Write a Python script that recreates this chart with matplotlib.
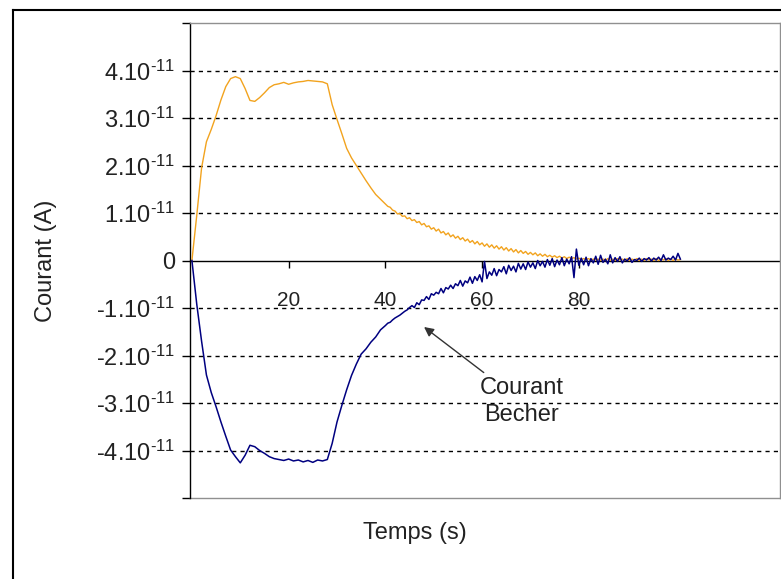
import numpy as np
import matplotlib
matplotlib.use("Agg")
import matplotlib.pyplot as plt
from matplotlib.lines import Line2D

plt.rcParams['font.family'] = ['Liberation Sans', 'DejaVu Sans']
plt.rcParams['mathtext.fontset'] = 'custom'
plt.rcParams['mathtext.rm'] = 'Liberation Sans'
plt.rcParams['mathtext.it'] = 'Liberation Sans:italic'
plt.rcParams['mathtext.bf'] = 'Liberation Sans:bold'

SCALE = 1e-11

# ---- data (currents in units of 1e-11 A) ----
t_coarse = list(range(0, 41))
orange_coarse = [0, 0.95, 1.95, 2.5, 2.76, 3.05, 3.38, 3.66, 3.83, 3.87, 3.83,
                 3.62, 3.37, 3.35, 3.43, 3.53, 3.64, 3.70, 3.72, 3.75, 3.71,
                 3.74, 3.76, 3.77, 3.79, 3.78, 3.77, 3.76, 3.72, 3.28, 2.97,
                 2.67, 2.36, 2.16, 2.0, 1.84, 1.68, 1.53, 1.39, 1.29, 1.19]
blue_coarse = [0, -0.92, -1.70, -2.41, -2.78, -3.08, -3.40, -3.70, -3.99, -4.13, -4.26,
               -4.10, -3.89, -3.92, -4.00, -4.06, -4.13, -4.17, -4.19, -4.21, -4.18,
               -4.22, -4.20, -4.24, -4.21, -4.25, -4.20, -4.22, -4.19, -3.85, -3.40,
               -3.05, -2.72, -2.42, -2.18, -1.97, -1.86, -1.72, -1.61, -1.46, -1.37]

# fine part: from 40.5 s every 0.5 s
orange_fine = [1.14, 1.12, 1.06, 1.04, 0.98, 0.99, 0.93, 0.94, 0.88, 0.90,
               0.84, 0.86, 0.80, 0.82, 0.75, 0.78, 0.71, 0.73, 0.66, 0.69,
               0.62, 0.66, 0.58, 0.61, 0.54, 0.58, 0.50, 0.54, 0.47, 0.51,
               0.44, 0.48, 0.41, 0.45, 0.38, 0.42, 0.35, 0.40, 0.33, 0.37,
               0.30, 0.35, 0.28, 0.33, 0.26, 0.31, 0.24, 0.29, 0.22, 0.27,
               0.20, 0.25, 0.18, 0.23, 0.16, 0.21, 0.15, 0.19, 0.13, 0.17,
               0.12, 0.16, 0.10, 0.14, 0.09, 0.13, 0.08, 0.11, 0.07, 0.10,
               0.06, 0.09, 0.05, 0.08, 0.04, 0.07, 0.04, 0.06, 0.03, 0.05,
               0.02, 0.04, 0.02, 0.04, 0.01, 0.03, 0.01, 0.03, 0.00, 0.03,
               0.00, 0.04, 0.00, 0.03, 0.00, 0.04, 0.01, 0.03, 0.00, 0.04,
               0.00, 0.03, 0.01, 0.04, 0.00, 0.03, 0.00, 0.04, 0.01, 0.03,
               0.00, 0.04, 0.00, 0.03, 0.01, 0.04, 0.00, 0.03, 0.00, 0.03,
               0.01, 0.02]
blue_fine = [-1.32, -1.30, -1.25, -1.21, -1.18, -1.15, -1.11, -1.07, -1.04, -0.99,
             -0.95, -0.99, -0.89, -0.93, -0.83, -0.84, -0.76, -0.82, -0.70, -0.73,
             -0.67, -0.70, -0.59, -0.68, -0.57, -0.60, -0.52, -0.59, -0.49, -0.53,
             -0.42, -0.54, -0.43, -0.47, -0.35, -0.48, -0.34, -0.42, -0.30, -0.45,
             -0.02, -0.38, -0.24, -0.31, -0.17, -0.32, -0.19, -0.24, -0.13, -0.28,
             -0.10, -0.21, -0.12, -0.24, -0.06, -0.18, -0.07, -0.19, -0.03, -0.14,
             -0.05, -0.17, 0.00, -0.11, -0.02, -0.14, 0.02, -0.10, 0.04, -0.13,
             0.01, -0.09, 0.06, -0.11, 0.03, -0.07, 0.08, -0.36, 0.24, -0.10,
             0.05, -0.09, 0.07, -0.11, 0.04, -0.05, 0.09, -0.08, 0.11, -0.04,
             0.03, -0.07, 0.12, -0.05, 0.06, -0.02, 0.08, -0.05, 0.03, -0.01,
             0.06, -0.04, 0.02, 0.00, 0.05, -0.02, 0.04, 0.01, 0.06, -0.01,
             0.05, 0.01, 0.07, 0.00, 0.12, 0.01, 0.05, 0.02, 0.09, 0.01,
             0.15, 0.03]

y_tick_vals = [-5, -4, -3, -2, -1, 0, 1, 2, 3, 4, 5]
y_tick_labels = ['', '-$\\mathrm{4.10}^{\\text{-11}}$', '-$\\mathrm{3.10}^{\\text{-11}}$',
                 '-$\\mathrm{2.10}^{\\text{-11}}$', '-$\\mathrm{1.10}^{\\text{-11}}$', '0',
                 '$\\mathrm{1.10}^{\\text{-11}}$', '$\\mathrm{2.10}^{\\text{-11}}$',
                 '$\\mathrm{3.10}^{\\text{-11}}$', '$\\mathrm{4.10}^{\\text{-11}}$', '']
x_tick_vals = [20, 40, 60, 80]
x_tick_labels = ['20', '40', '60', '80']
grid_vals = [-4, -3, -2, -1, 1, 2, 3, 4]

t_fine_o = 40.5 + 0.5 * np.arange(len(orange_fine))
t_fine_b = 40.5 + 0.5 * np.arange(len(blue_fine))
t_orange = np.concatenate([t_coarse, t_fine_o])
t_blue = np.concatenate([t_coarse, t_fine_b])
y_orange = np.concatenate([orange_coarse, orange_fine]) * SCALE
y_blue = np.concatenate([blue_coarse, blue_fine]) * SCALE

W, H = 781, 579
fig = plt.figure(figsize=(W / 100, H / 100), dpi=100)
ax = fig.add_axes([189.5 / W, 1 - 498 / H, (780 - 189.5) / W, (498 - 23) / H])

ax.set_xlim(-0.5, 121.6)
ax.set_ylim(-5 * SCALE, 5 * SCALE)

for g in grid_vals:
    ax.axhline(g * SCALE, color='black', lw=1.0, ls=(0, (3, 3)), zorder=1)

ax.plot(t_orange, y_orange, color='#F2A31E', lw=1.0, zorder=3)
ax.plot(t_blue, y_blue, color='#000080', lw=1.1, zorder=4)

# spines
for s in ['top', 'right']:
    ax.spines[s].set_color('#909090')
    ax.spines[s].set_linewidth(1.0)
ax.spines['left'].set_color('black')
ax.spines['left'].set_linewidth(1.0)
ax.spines['bottom'].set_position(('data', 0))
ax.spines['bottom'].set_color('black')
ax.spines['bottom'].set_linewidth(1.0)
ax.spines['bottom'].set_zorder(2)
# bottom plot-area border
ax.add_line(Line2D([0, 1], [0, 0], transform=ax.transAxes, color='#909090', lw=1.0, clip_on=False))

ax.set_yticks([v * SCALE for v in y_tick_vals])
ax.set_yticklabels(y_tick_labels, fontsize=17, color='#222222')
ax.tick_params(axis='y', direction='out', length=6, width=1.0, pad=4)

ax.set_xticks(x_tick_vals)
ax.set_xticklabels(x_tick_labels, fontsize=15, color='#222222')
ax.tick_params(axis='x', direction='out', length=5, width=1.0, pad=17)

fig.text(46 / W, 1 - 261 / H, 'Courant (A)', rotation=90, ha='center', va='center',
         fontsize=17, color='#222222')
fig.text(415 / W, 1 - 533 / H, 'Temps (s)', ha='center', va='center',
         fontsize=17, color='#222222')

ax.annotate('Courant\nBecher', xy=(48.0, -1.40 * SCALE), xytext=(68.2, -2.97 * SCALE),
            ha='center', va='center', fontsize=17, color='#222222', linespacing=1.3,
            arrowprops=dict(arrowstyle='-|>', color='#333333', lw=1.0,
                            mutation_scale=14, shrinkA=2, shrinkB=0))

# outer frame
fig.add_artist(Line2D([13 / W, 13 / W], [0, 1 - 10 / H], color='black', lw=1.5))
fig.add_artist(Line2D([13 / W, 1], [1 - 10 / H, 1 - 10 / H], color='black', lw=1.5))

fig.savefig('out.png', dpi=100)
